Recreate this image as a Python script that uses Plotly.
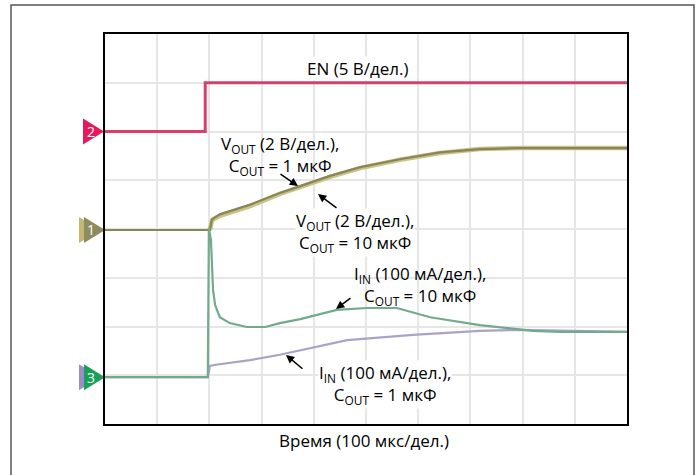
import plotly.graph_objects as go

# ---- data (x in time divisions 0..10, y in screen divisions 0..8) ----
en_x = [0, 1.92, 1.92, 10]
en_y = [6.0, 6.0, 7.0, 7.0]

vout10_x = [0, 2.01, 2.05, 2.20, 2.78, 3.35, 3.74, 4.31, 4.89, 5.65, 6.42, 7.18, 7.95, 10]
vout10_y = [3.98, 3.98, 4.18, 4.27, 4.47, 4.72, 4.86, 5.07, 5.25, 5.42, 5.56, 5.64, 5.66, 5.66]
vout1_y = [3.98, 3.98, 4.20, 4.30, 4.50, 4.74, 4.88, 5.09, 5.27, 5.43, 5.57, 5.64, 5.66, 5.66]

iin10_x = [0, 1.97, 1.99, 2.03, 2.07, 2.11, 2.20, 2.39, 2.72, 3.07, 3.35, 3.74, 4.44, 5.02, 5.59, 6.23, 7.18, 7.95, 8.20, 8.72, 10]
iin10_y = [0.96, 0.96, 4.02, 3.77, 2.75, 2.44, 2.19, 2.07, 1.99, 1.99, 2.07, 2.15, 2.34, 2.38, 2.38, 2.19, 2.03, 1.93, 1.91, 1.89, 1.89]

iin1_x = [0, 1.97, 2.01, 2.09, 2.78, 3.35, 4.64, 5.90, 7.18, 7.95, 10]
iin1_y = [0.96, 0.96, 1.19, 1.21, 1.31, 1.42, 1.72, 1.83, 1.91, 1.93, 1.89]

# channel marker labels and levels
ch_labels = ["2", "1", "3"]
ch_levels = [6.0, 3.98, 0.96]

W, H = 698, 475
ML, MR, MT, MB = 105, 71, 34, 51
PW, PH = W - ML - MR, H - MT - MB

def px(xp):
    return (xp - ML) / PW

def py(yp):
    return (H - MB - yp) / PH

fig = go.Figure()

fig.add_trace(go.Scatter(x=en_x, y=en_y, mode="lines",
                         line=dict(color="#d8406c", width=3), hoverinfo="skip"))
# thick band for the 10 uF output (after the step), thin olive core for 1 uF
fig.add_trace(go.Scatter(x=vout10_x[1:], y=vout10_y[1:], mode="lines",
                         line=dict(color="#cbc184", width=4.5), hoverinfo="skip"))
fig.add_trace(go.Scatter(x=vout10_x, y=vout1_y, mode="lines",
                         line=dict(color="#878658", width=2.2), hoverinfo="skip"))
fig.add_trace(go.Scatter(x=iin1_x, y=iin1_y, mode="lines",
                         line=dict(color="#aaa2c8", width=2.2), hoverinfo="skip"))
fig.add_trace(go.Scatter(x=iin10_x, y=iin10_y, mode="lines",
                         line=dict(color="#72aa8c", width=2.2), hoverinfo="skip"))

shapes = []
# outer frame
shapes.append(dict(type="rect", xref="paper", yref="paper",
                   x0=px(11), x1=px(694), y0=py(477), y1=py(5),
                   line=dict(color="#555555", width=1.5), layer="above"))

def tri(x_left, x_tip, yc, half=13):
    ypix = H - MB - yc * PH / 8
    return (f"M {px(x_left)} {py(ypix - half)} L {px(x_tip)} {py(ypix)} "
            f"L {px(x_left)} {py(ypix + half)} Z")

marker_back = [None, "#c2b872", "#9a8ec8"]
marker_front = ["#e8185c", "#8e8b60", "#18a05a"]
for lab, lev, bk, fr in zip(ch_labels, ch_levels, marker_back, marker_front):
    if bk:
        shapes.append(dict(type="path", xref="paper", yref="paper", layer="below",
                           path=tri(79, 100, lev), fillcolor=bk, line=dict(width=0)))
        shapes.append(dict(type="path", xref="paper", yref="paper", layer="below",
                           path=tri(84, 105, lev), fillcolor=fr, line=dict(width=0)))
    else:
        shapes.append(dict(type="path", xref="paper", yref="paper", layer="below",
                           path=tri(83, 104, lev), fillcolor=fr, line=dict(width=0)))

FONT = "Open Sans"
FS = 17
annotations = []
for lab, lev in zip(ch_labels, ch_levels):
    ypix = H - MB - lev * PH / 8
    annotations.append(dict(x=px(90.5), y=py(ypix), xref="paper", yref="paper",
                            xanchor="center", yanchor="middle",
                            text=lab, showarrow=False,
                            font=dict(family=FONT, size=14, color="white")))

def dx(p):
    return (p - ML) / PW * 10

def dy(p):
    return (H - MB - p) / PH * 8

CLEAR = "rgba(0,0,0,0)"
labels = [
    ("EN (5 В/дел.)", 358, 68, "white"),
    ("V<sub>OUT</sub> (2 В/дел.),<br>C<sub>OUT</sub> = 1 мкФ", 280, 155, CLEAR),
    ("V<sub>OUT</sub> (2 В/дел.),<br>C<sub>OUT</sub> = 10 мкФ", 355, 232, "white"),
    ("I<sub>IN</sub> (100 мА/дел.),<br>C<sub>OUT</sub> = 10 мкФ", 420, 285, CLEAR),
    ("I<sub>IN</sub> (100 мА/дел.),<br>C<sub>OUT</sub> = 1 мкФ", 385, 384, "white"),
]
for t, xx, yy, bg in labels:
    annotations.append(dict(x=dx(xx), y=dy(yy), xref="x", yref="y", text=t,
                            xanchor="center", yanchor="middle",
                            showarrow=False, bgcolor=bg, borderpad=0,
                            font=dict(family=FONT, size=FS, color="black")))

annotations.append(dict(x=px(364), y=py(440), xref="paper", yref="paper",
                        xanchor="center", yanchor="middle",
                        text="Время (100 мкс/дел.)", showarrow=False,
                        font=dict(family=FONT, size=FS, color="black")))

arrows = [((298, 186), (279, 173)), ((318, 194), (338, 209)),
          ((336, 309), (352, 297)), ((286, 355), (304, 370))]
for (hx, hy), (tx, ty) in arrows:
    annotations.append(dict(x=dx(hx), y=dy(hy), xref="x", yref="y", text="",
                            showarrow=True, ax=tx - hx, ay=ty - hy,
                            arrowhead=2, arrowsize=1.1, arrowwidth=1.5,
                            arrowcolor="black"))

axis_common = dict(showgrid=True, gridcolor="#e6e6e6", gridwidth=1.5,
                   zeroline=False, showticklabels=False, ticks="",
                   showline=True, mirror=True, linecolor="black", linewidth=1.5,
                   dtick=1, fixedrange=True)

fig.update_layout(
    width=W, height=H,
    margin=dict(l=ML, r=MR, t=MT, b=MB),
    paper_bgcolor="white", plot_bgcolor="white",
    showlegend=False,
    xaxis=dict(range=[0, 10], **axis_common),
    yaxis=dict(range=[0, 8], **axis_common),
    shapes=shapes,
    annotations=annotations,
)

fig.write_html("out.html")
